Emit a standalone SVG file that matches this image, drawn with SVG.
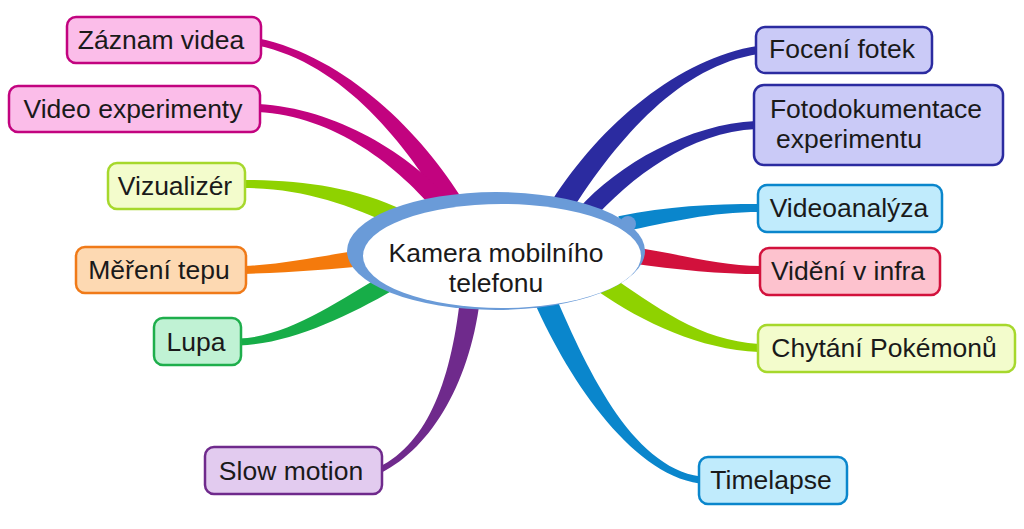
<svg xmlns="http://www.w3.org/2000/svg" width="1024" height="529" viewBox="0 0 1024 529">
<style>
.lbl{font-family:"Liberation Sans",Arial,sans-serif;font-size:26.5px;fill:#1a1a1a;text-anchor:middle}
.box{stroke-width:2.5}
.mag{fill:#fbbde9;stroke:#c2037f}
.lime{fill:#f3fccc;stroke:#a6d82c}
.org{fill:#fdd9b2;stroke:#f07a18}
.grn{fill:#c0f2d4;stroke:#1eae4c}
.pur{fill:#e2cbef;stroke:#6f2a8c}
.navy{fill:#cacaf7;stroke:#2b2ba0}
.sky{fill:#c0ebfc;stroke:#0a86cc}
.red{fill:#fdc2ce;stroke:#d2113c}
</style>
<rect width="1024" height="529" fill="#fff"/>
<g id="connectors">
<path fill="#c2037f" d="M464.4,202.6 C423.4,134.6 345.7,56.6 258.7,38.6 L257.3,45.4 C344.3,63.4 406.6,145.4 447.6,213.4 Z"/>
<path fill="#c2037f" d="M452.8,204.1 C411.8,154.1 335.2,108 258.2,104 L257.8,112 C334.8,116 398.2,165.9 439.2,215.9 Z"/>
<path fill="#8fd200" d="M404.7,210.8 C353.7,186.8 300,180 243,180 L243,188 C300,188 346.3,203.2 397.3,227.2 Z"/>
<path fill="#f47a0c" d="M368.9,249.1 C328.9,254.1 289.8,264 243.8,266 L244.2,274 C290.2,272 331.1,269.9 371.1,264.9 Z"/>
<path fill="#17ad48" d="M386.6,273.1 C335.6,302.1 289.9,336.5 238.9,338.5 L239.1,345.5 C290.1,343.5 344.4,317.9 395.4,288.9 Z"/>
<path fill="#6f2a8c" d="M461.1,289 C452.1,379 428.7,442.3 378.7,467.3 L381.3,472.7 C431.3,447.7 471.9,381 480.9,291 Z"/>
<path fill="#2b2ba0" d="M570.2,213 C619.2,136 680.6,66 758.6,54 L757.4,46 C679.4,58 600.8,124 551.8,201 Z"/>
<path fill="#2b2ba0" d="M590.2,222.6 C631.2,176.6 690.2,132 756.2,129 L755.8,121 C689.8,124 618.8,163.5 577.8,209.5 Z"/>
<path fill="#0a86cc" d="M621.6,231.9 C671.6,221.9 710,212 760,212 L760,204 C710,204 668.4,206.2 618.4,216.2 Z"/>
<path fill="#d2113c" d="M628.8,262.9 C678.8,269.9 720,274 761,274 L761,266 C720,266 681.2,254.1 631.2,247.1 Z"/>
<path fill="#8fd200" d="M596.6,290.4 C644.6,323.4 699.8,349 758.8,352 L759.2,344 C700.2,341 655.4,306.6 607.4,273.6 Z"/>
<path fill="#0a86cc" d="M530.9,294.3 C564.9,374.3 629.5,473.5 699.5,483.5 L700.5,476.5 C630.5,466.5 585.1,365.7 551.1,285.7 Z"/>
</g>
<g id="center">
<ellipse cx="496" cy="251" rx="149" ry="59" fill="#6a9bd8"/>
<ellipse cx="502" cy="256" rx="139" ry="52" fill="#fff"/>
<circle cx="628" cy="224" r="8" fill="#6a9bd8"/>
<text class="lbl" x="496" y="262">Kamera mobilního</text>
<text class="lbl" x="496" y="292">telefonu</text>
</g>
<g id="n-zaznam"><rect class="box mag" x="67" y="17" width="194" height="46" rx="9"/><text class="lbl" x="161" y="49">Záznam videa</text></g>
<g id="n-videoexp"><rect class="box mag" x="9" y="86" width="251" height="46" rx="9"/><text class="lbl" x="133" y="118">Video experimenty</text></g>
<g id="n-vizualizer"><rect class="box lime" x="108" y="163" width="137" height="46" rx="9"/><text class="lbl" x="175" y="195">Vizualizér</text></g>
<g id="n-tep"><rect class="box org" x="76" y="247" width="170" height="46" rx="9"/><text class="lbl" x="159" y="279">Měření tepu</text></g>
<g id="n-lupa"><rect class="box grn" x="154" y="318" width="87" height="47" rx="9"/><text class="lbl" x="196" y="351">Lupa</text></g>
<g id="n-slow"><rect class="box pur" x="205" y="447" width="177" height="47" rx="9"/><text class="lbl" x="291" y="480">Slow motion</text></g>
<g id="n-foceni"><rect class="box navy" x="756" y="27" width="176" height="46" rx="9"/><text class="lbl" x="842" y="58">Focení fotek</text></g>
<g id="n-fotodok"><rect class="box navy" x="754" y="85" width="249" height="80" rx="10"/><text class="lbl" x="876" y="118">Fotodokumentace</text><text class="lbl" x="849" y="148">experimentu</text></g>
<g id="n-videoanal"><rect class="box sky" x="758" y="185" width="184" height="47" rx="9"/><text class="lbl" x="849" y="217">Videoanalýza</text></g>
<g id="n-infra"><rect class="box red" x="760" y="248" width="180" height="47" rx="9"/><text class="lbl" x="848" y="280">Vidění v infra</text></g>
<g id="n-pokemon"><rect class="box lime" x="758" y="325" width="257" height="47" rx="9"/><text class="lbl" x="884" y="357">Chytání Pokémonů</text></g>
<g id="n-timelapse"><rect class="box sky" x="699" y="457" width="148" height="47" rx="9"/><text class="lbl" x="771" y="489">Timelapse</text></g>
</svg>
